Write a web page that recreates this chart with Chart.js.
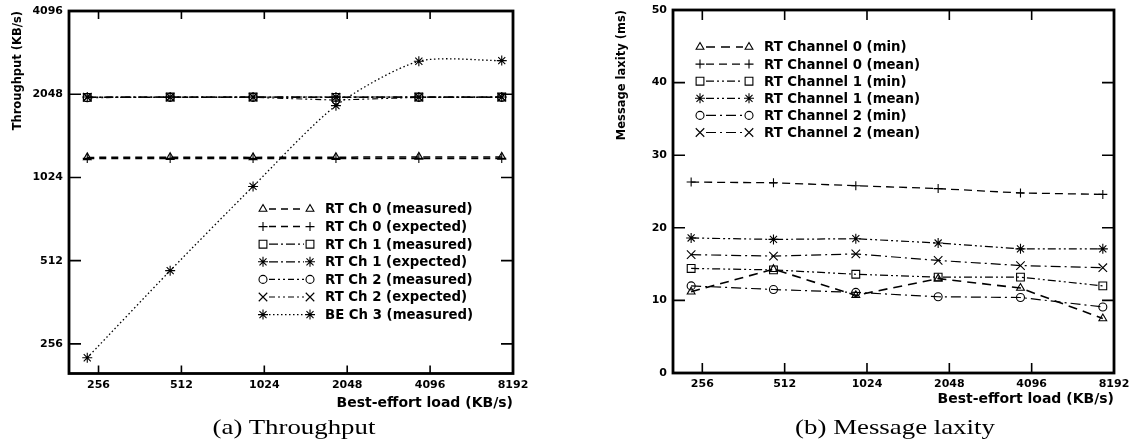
<!DOCTYPE html>
<html>
<head>
<meta charset="utf-8">
<script src="https://cdn.jsdelivr.net/npm/chart.js@4.4.1/dist/chart.umd.min.js"></script>
<style>
  html, body { margin: 0; padding: 0; background: #fff; }
  body { width: 1135px; height: 440px; position: relative; overflow: hidden; }
  canvas { position: absolute; top: 0; }
  #cA { left: 0; }
  #cB { left: 560px; }
  .cap { position: absolute; top: 414px; font-family: "Liberation Serif", "Times New Roman", serif; font-size: 22px; color: #000; white-space: nowrap; transform: translateX(-50%) scaleX(1.22); }
</style>
</head>
<body>
<canvas id="cA" width="560" height="415"></canvas>
<canvas id="cB" width="575" height="415"></canvas>
<div class="cap" style="left:294px">(a) Throughput</div>
<div class="cap" style="left:895px">(b) Message laxity</div>
<script>
// ---------- data ----------
const loadKBs = [233, 466, 932, 1864, 3728, 7456];          // x positions of measurements
const xTickLabels = [256, 512, 1024, 2048, 4096, 8192];
const yTicksThroughput = [256, 512, 1024, 2048, 4096];

// (a) Throughput (KB/s)
const rtCh0Measured = [1210, 1212, 1210, 1212, 1215, 1215];
const rtCh0Expected = [1200, 1200, 1200, 1200, 1200, 1200];
const rtCh1Measured = [1995, 2000, 2000, 1995, 2000, 2000];
const rtCh1Expected = [2000, 2000, 2000, 2000, 2000, 2000];
const rtCh2Measured = [1990, 1995, 1995, 1950, 1995, 1995];
const rtCh2Expected = [2000, 2000, 2000, 2000, 2000, 2000];
const beCh3Measured = [228, 471, 950, 1862, 2695, 2710];

// (b) Message laxity (ms)
const ch0Min  = [11.2, 14.3, 10.7, 13.0, 11.7, 7.5];
const ch0Mean = [26.3, 26.2, 25.8, 25.4, 24.8, 24.6];
const ch1Min  = [14.4, 14.2, 13.6, 13.2, 13.2, 12.0];
const ch1Mean = [18.6, 18.4, 18.5, 17.9, 17.1, 17.1];
const ch2Min  = [12.0, 11.5, 11.1, 10.5, 10.4, 9.1];
const ch2Mean = [16.3, 16.1, 16.4, 15.5, 14.8, 14.5];

// ---------- helpers ----------
const pts = arr => arr.map((v, i) => ({ x: loadKBs[i], y: v }));
const TICK_FONT = { family: 'DejaVu Sans', size: 11, weight: 'bold' };
const XTITLE_FONT = { family: 'DejaVu Sans', size: 14, weight: 'bold' };
const YTITLE_FONT = { family: 'DejaVu Sans', size: 11.5, weight: 'bold' };
const LEGEND_FONT = 'bold 13.3px "DejaVu Sans"';

function ds(label, data, style, radius, dash, width, tension) {
  return {
    label, data: pts(data),
    borderColor: '#000', borderWidth: width || 1.2, borderDash: dash,
    pointStyle: style, pointRadius: radius, pointBorderWidth: 1.1,
    pointBorderColor: '#000', pointBackgroundColor: 'rgba(0,0,0,0)',
    tension: tension || 0, fill: false
  };
}

const framePlugin = {
  id: 'frame',
  afterDatasetsDraw(chart, args, o) {
    const { ctx, chartArea: a } = chart;
    const sx = chart.scales.x, sy = chart.scales.y;
    ctx.save();
    ctx.setLineDash([]);
    ctx.strokeStyle = '#000';
    ctx.lineWidth = 1.6;
    ctx.beginPath();
    sx.ticks.forEach(t => {
      const p = sx.getPixelForValue(t.value);
      if (p < a.left + 2 || p > a.right - 2) return;
      ctx.moveTo(p, a.bottom); ctx.lineTo(p, a.bottom - o.xLen);
      ctx.moveTo(p, a.top); ctx.lineTo(p, a.top + o.xLen);
    });
    sy.ticks.forEach(t => {
      const p = sy.getPixelForValue(t.value);
      if (p < a.top + 2 || p > a.bottom - 2) return;
      ctx.moveTo(a.left, p); ctx.lineTo(a.left + o.yLen, p);
      ctx.moveTo(a.right, p); ctx.lineTo(a.right - o.yLen, p);
    });
    ctx.stroke();
    ctx.lineWidth = 2.8;
    ctx.strokeRect(a.left, a.top, a.right - a.left, a.bottom - a.top);
    ctx.restore();
  }
};

const lineLegendPlugin = {
  id: 'lineLegend',
  afterDraw(chart, args, o) {
    const ctx = chart.ctx;
    const a = chart.chartArea;
    chart.data.datasets.forEach((d, i) => {
      const y = a.top + o.top + i * o.rowH;
      const x1 = a.left + o.left, x2 = x1 + o.lineW, tx = x2 + o.gap;
      ctx.save();
      ctx.strokeStyle = '#000';
      ctx.lineWidth = d.borderWidth;
      ctx.setLineDash(d.borderDash || []);
      ctx.beginPath();
      ctx.moveTo(x1 + 6, y); ctx.lineTo(x2 - 6, y);
      ctx.stroke();
      ctx.setLineDash([]);
      ctx.lineWidth = d.pointBorderWidth;
      ctx.fillStyle = 'rgba(0,0,0,0)';
      [x1, x2].forEach(px => {
        Chart.helpers.drawPoint(ctx, { pointStyle: d.pointStyle, radius: d.pointRadius, borderWidth: d.pointBorderWidth, rotation: 0 }, px, y);
      });
      ctx.fillStyle = '#000';
      ctx.font = LEGEND_FONT;
      ctx.textBaseline = 'middle';
      ctx.textAlign = 'left';
      ctx.fillText(d.label, tx, y + 1);
      ctx.restore();
    });
  }
};

function baseOptions(cfg) {
  return {
    responsive: false, animation: false, devicePixelRatio: 1,
    layout: { padding: { top: cfg.padTop, right: cfg.padRight, left: 0, bottom: 0 } },
    plugins: {
      legend: { display: false }, tooltip: { enabled: false },
      frame: { xLen: cfg.xLen, yLen: cfg.yLen },
      lineLegend: cfg.legend
    },
    scales: {
      x: {
        type: 'logarithmic', min: cfg.xMin, max: 8192,
        afterBuildTicks: s => { s.ticks = xTickLabels.map(v => ({ value: v })); },
        afterFit: s => { s.height = cfg.xH; s.paddingLeft = 0; s.paddingRight = 0; },
        ticks: { font: TICK_FONT, color: '#000', padding: cfg.xTickPad, maxRotation: 0, autoSkip: false, callback: v => String(v) },
        grid: { display: false, drawTicks: false },
        border: { display: false },
        title: { display: true, text: 'Best-effort load (KB/s)', align: 'end', color: '#000', font: XTITLE_FONT, padding: { top: 0, bottom: cfg.xTitlePad } }
      },
      y: cfg.y
    }
  };
}

// ---------- chart (a) ----------
new Chart(document.getElementById('cA'), {
  type: 'line',
  data: {
    datasets: [
      ds('RT Ch 0 (measured)', rtCh0Measured, 'triangle', 4.5, [7, 5], 1.5),
      ds('RT Ch 0 (expected)', rtCh0Expected, 'cross', 4.5, [7, 5], 1.5),
      ds('RT Ch 1 (measured)', rtCh1Measured, 'rect', 5.5, [9, 3, 2, 3], 1.3),
      ds('RT Ch 1 (expected)', rtCh1Expected, 'star', 5, [9, 3, 2, 3], 1.3),
      ds('RT Ch 2 (measured)', rtCh2Measured, 'circle', 4, [6, 3, 2, 3, 2, 3], 1.1),
      ds('RT Ch 2 (expected)', rtCh2Expected, 'crossRot', 6, [6, 3, 2, 3, 2, 3], 1.1),
      ds('BE Ch 3 (measured)', beCh3Measured, 'star', 5, [1.5, 2.5], 1.3, 0.25)
    ]
  },
  options: baseOptions({
    padTop: 11, padRight: 47, xMin: 200, xH: 41.5, xLen: 8, yLen: 12, xTickPad: 5, xTitlePad: 3,
    legend: { left: 194, top: 198, rowH: 17.6, lineW: 47, gap: 15 },
    y: {
      type: 'logarithmic', min: 200, max: 4096,
      afterBuildTicks: s => { s.ticks = yTicksThroughput.map(v => ({ value: v })); },
      afterFit: s => { s.width = 69; s.paddingTop = 0; s.paddingBottom = 0; },
      ticks: { font: TICK_FONT, color: '#000', padding: 6, callback: v => String(v) },
      grid: { display: false, drawTicks: false },
      border: { display: false },
      title: { display: true, text: 'Throughput (KB/s)', align: 'end', color: '#000', font: YTITLE_FONT, padding: { top: 11, bottom: 0 } }
    }
  }),
  plugins: [framePlugin, lineLegendPlugin]
});

// ---------- chart (b) ----------
new Chart(document.getElementById('cB'), {
  type: 'line',
  data: {
    datasets: [
      ds('RT Channel 0 (min)', ch0Min, 'triangle', 4.5, [9, 6], 1.6),
      ds('RT Channel 0 (mean)', ch0Mean, 'cross', 4.5, [8, 5], 1.3),
      ds('RT Channel 1 (min)', ch1Min, 'rect', 5.5, [8, 3, 2, 3, 2, 3], 1.2),
      ds('RT Channel 1 (mean)', ch1Mean, 'star', 5, [8, 3, 2, 3, 2, 3], 1.2),
      ds('RT Channel 2 (min)', ch2Min, 'circle', 4, [10, 4, 2, 4], 1.2),
      ds('RT Channel 2 (mean)', ch2Mean, 'crossRot', 6, [10, 4, 2, 4], 1.2)
    ]
  },
  options: baseOptions({
    padTop: 10, padRight: 21, xMin: 200, xH: 42, xLen: 10, yLen: 12, xTickPad: 5, xTitlePad: 7,
    legend: { left: 27, top: 37, rowH: 17.1, lineW: 49, gap: 15 },
    y: {
      type: 'linear', min: 0, max: 50,
      ticks: { stepSize: 10, font: TICK_FONT, color: '#000', padding: 6 },
      afterFit: s => { s.width = 113; s.paddingTop = 0; s.paddingBottom = 0; },
      grid: { display: false, drawTicks: false },
      border: { display: false },
      title: { display: true, text: 'Message laxity (ms)', align: 'end', color: '#000', font: YTITLE_FONT, padding: { top: 55, bottom: 0 } }
    }
  }),
  plugins: [framePlugin, lineLegendPlugin]
});
</script>
</body>
</html>
